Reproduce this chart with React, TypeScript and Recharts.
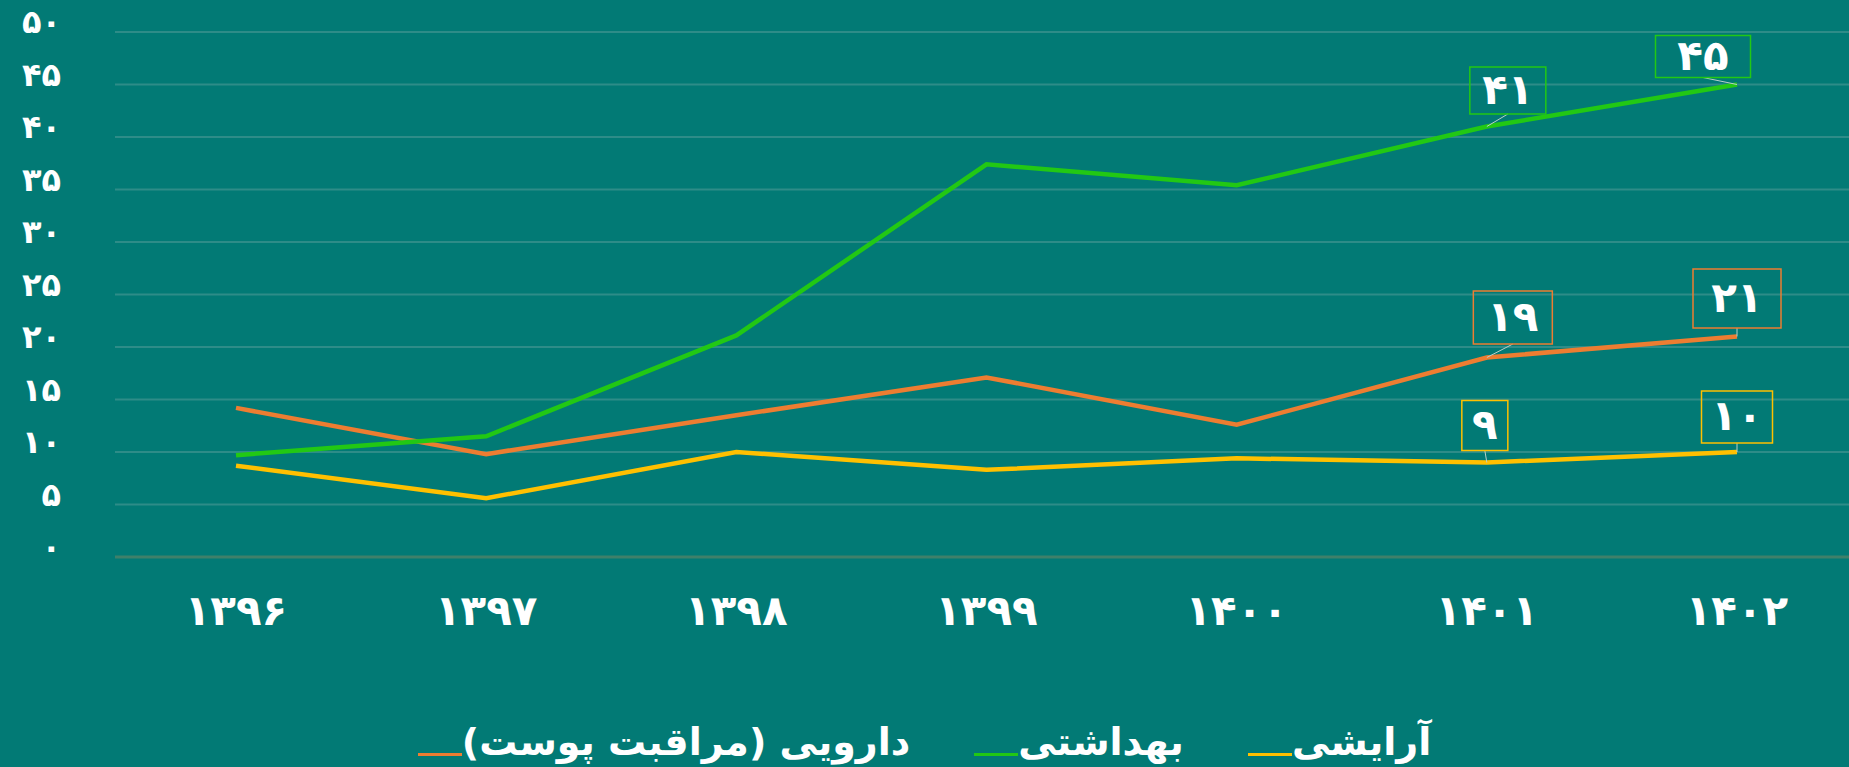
import { LineChart, Line, XAxis, YAxis, CartesianGrid, Legend, LabelList } from 'recharts';

const years = ['۱۳۹۶', '۱۳۹۷', '۱۳۹۸', '۱۳۹۹', '۱۴۰۰', '۱۴۰۱', '۱۴۰۲'];
const hygiene = [9.7, 11.5, 21.1, 37.4, 35.4, 41, 45];
const medical = [14.2, 9.8, 13.5, 17.1, 12.6, 19, 21];
const cosmetic = [8.7, 5.6, 10, 8.3, 9.4, 9, 10];
const yTicks = [0, 5, 10, 15, 20, 25, 30, 35, 40, 45, 50];

const BG = '#027A75';
const WHITE = '#FFFFFF';
const FONT = '"DejaVu Sans", sans-serif';

const series = [
  { key: 'medical', name: 'دارویی (مراقبت پوست)', color: '#ED7D31' },
  { key: 'hygiene', name: 'بهداشتی', color: '#22C814' },
  { key: 'cosmetic', name: 'آرایشی', color: '#FFC000' },
];

// label box placement relative to the point (only last two years are labelled)
const labelBoxes: Record<string, Record<number, { dx: number; dy: number; w: number; h: number }>> = {
  hygiene: { 5: { dx: 21, dy: -36, w: 76, h: 47 }, 6: { dx: -34, dy: -28, w: 95, h: 42 } },
  medical: { 5: { dx: 26, dy: -40, w: 79, h: 53 }, 6: { dx: 0, dy: -38, w: 88, h: 59 } },
  cosmetic: { 5: { dx: -2, dy: -37, w: 46, h: 50 }, 6: { dx: 0, dy: -35, w: 71, h: 52 } },
};

const data = years.map((year, i) => ({
  year,
  hygiene: hygiene[i],
  medical: medical[i],
  cosmetic: cosmetic[i],
}));

const faDigits = (v: number | string) =>
  String(v).replace(/\d/g, (d) => '۰۱۲۳۴۵۶۷۸۹'[Number(d)]);

const makeLabel = (key: string, color: string) => (props: any) => {
  const { x, y, value, index } = props;
  const box = labelBoxes[key][index];
  if (!box) return null;
  const cx = x + box.dx;
  const cy = y + box.dy;
  return (
    <g>
      <line x1={x} y1={y} x2={cx} y2={cy + box.h / 2} stroke="#B9CFC9" strokeWidth={1} />
      <rect
        x={cx - box.w / 2}
        y={cy - box.h / 2}
        width={box.w}
        height={box.h}
        fill="none"
        stroke={color}
        strokeWidth={1.5}
      />
      <text
        x={cx}
        y={cy}
        dy="0.32em"
        textAnchor="middle"
        fill={WHITE}
        fontSize={42}
        fontWeight={700}
        fontFamily={FONT}
      >
        {faDigits(Math.round(value))}
      </text>
    </g>
  );
};

const YTick = ({ x, y, payload }: any) => (
  <text
    x={x}
    y={y}
    dy={1}
    textAnchor="end"
    fill={WHITE}
    fontSize={32}
    fontWeight={700}
    fontFamily={FONT}
  >
    {faDigits(payload.value)}
  </text>
);

const LegendContent = () => (
  <div
    style={{
      height: 50,
      display: 'flex',
      justifyContent: 'center',
      alignItems: 'center',
      gap: 64,
      fontFamily: FONT,
      fontSize: 38,
      fontWeight: 700,
      color: WHITE,
    }}
  >
    {series.map((s) => (
      <div key={s.key} style={{ display: 'flex', alignItems: 'flex-end' }}>
        <span style={{ width: 44, height: 3, background: s.color, marginBottom: 9 }} />
        <span style={{ lineHeight: '46px' }}>{s.name}</span>
      </div>
    ))}
  </div>
);

export default function App() {
  return (
    <div style={{ position: 'fixed', left: 0, top: 0, width: 1849, height: 767, background: BG }}>
      <LineChart width={1849} height={767} data={data} margin={{ top: 32, right: 0, left: 0, bottom: 0 }}>
        <CartesianGrid vertical={false} stroke="#2E8C88" strokeWidth={2} />
        <XAxis
          dataKey="year"
          height={160}
          padding={{ left: 121, right: 112 }}
          axisLine={{ stroke: '#3F806A', strokeWidth: 3 }}
          tickLine={false}
          tickSize={0}
          tickMargin={38}
          tick={{ fill: WHITE, fontSize: 42, fontWeight: 700, fontFamily: FONT }}
        />
        <YAxis
          width={115}
          domain={[0, 50]}
          ticks={yTicks}
          interval={0}
          axisLine={false}
          tickLine={false}
          tickSize={0}
          tickMargin={54}
          tick={<YTick />}
        />
        <Legend verticalAlign="bottom" content={<LegendContent />} />
        {series.map((s) => (
          <Line
            key={s.key}
            dataKey={s.key}
            name={s.name}
            stroke={s.color}
            strokeWidth={4.5}
            dot={false}
            activeDot={false}
            isAnimationActive={false}
          >
            <LabelList dataKey={s.key} content={makeLabel(s.key, s.color)} />
          </Line>
        ))}
      </LineChart>
    </div>
  );
}
